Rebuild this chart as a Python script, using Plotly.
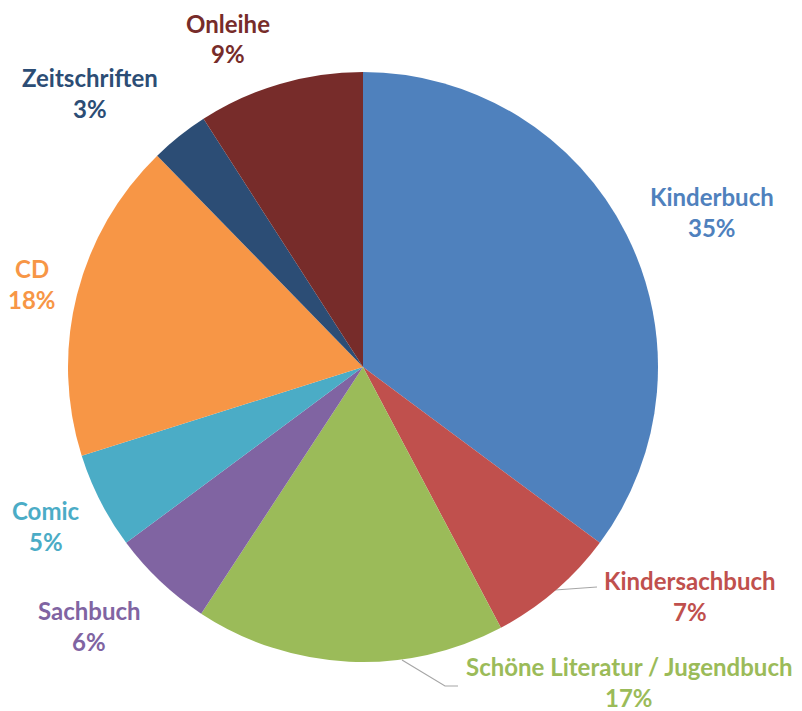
import plotly.graph_objects as go

# shares (clockwise from 12 o'clock)
categories = ['Kinderbuch', 'Kindersachbuch', 'Schöne Literatur / Jugendbuch', 'Sachbuch',
              'Comic', 'CD', 'Zeitschriften', 'Onleihe']
values = [35.2, 7.1, 17.0, 5.6, 5.3, 17.6, 3.2, 9.1]
colors = ['#4F81BD', '#C0504D', '#9BBB59', '#8064A2', '#4BACC6', '#F79646', '#2C4D75', '#772C2A']

# label anchor (centre of name line) in window pixels, top-left origin
label_pos = [(712, 196), (690, 580), (629, 666), (89, 610), (46, 510), (32, 268), (90, 77), (228, 23)]
line_gap = 31

# page body has an 8px margin, so the figure sits at (8, 8)
OFF = 8
W, H = 802 - OFF, 711 - OFF
cx, cy, r = 363 - OFF, 367 - OFF, 295


def px(x):
    return (x - OFF) / W


def py(y):
    return 1 - (y - OFF) / H


fig = go.Figure()
fig.add_trace(go.Pie(
    labels=categories, values=values, sort=False, direction='clockwise', rotation=0,
    marker=dict(colors=colors, line=dict(width=0)),
    textinfo='none', hoverinfo='label+percent', showlegend=False,
    domain=dict(x=[(cx - r) / W, (cx + r) / W], y=[1 - (cy + r) / H, 1 - (cy - r) / H]),
))

total = sum(values)
for name, v, c, (x, y) in zip(categories, values, colors, label_pos):
    pct = round(v / total * 100)
    fig.add_annotation(x=px(x), y=py(y), xref='paper', yref='paper', text='<b>' + name + '</b>',
                       showarrow=False, font=dict(family='Lato', size=24, color=c),
                       xanchor='center', yanchor='middle')
    fig.add_annotation(x=px(x), y=py(y + line_gap), xref='paper', yref='paper',
                       text='<b>' + str(pct) + '%</b>', showarrow=False,
                       font=dict(family='Lato', size=24, color=c), xanchor='center', yanchor='middle')

# leader lines
for pts in [[(555, 590), (597, 587)], [(402, 660), (445, 686), (458, 686)]]:
    fig.add_trace(go.Scatter(x=[px(a) for a, b in pts], y=[py(b) for a, b in pts], mode='lines',
                             line=dict(color='#A6A6A6', width=1.2), hoverinfo='skip',
                             showlegend=False))

fig.update_xaxes(range=[0, 1], visible=False, fixedrange=True, domain=[0, 1])
fig.update_yaxes(range=[0, 1], visible=False, fixedrange=True, domain=[0, 1])
fig.update_layout(width=W, height=H, margin=dict(l=0, r=0, t=0, b=0),
                  paper_bgcolor='white', plot_bgcolor='rgba(0,0,0,0)')

fig.write_html('out.html')
